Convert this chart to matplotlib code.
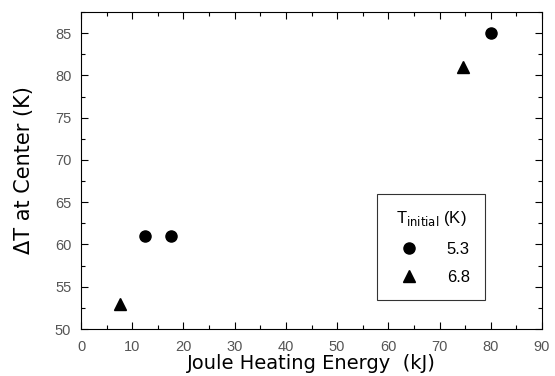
import matplotlib
matplotlib.use("Agg")
import matplotlib.pyplot as plt
from matplotlib.ticker import MultipleLocator
from matplotlib.lines import Line2D

plt.rcParams['font.family'] = ['Liberation Sans', 'DejaVu Sans']

# data
x_53 = [12.5, 17.5, 80.0]
y_53 = [61.0, 61.0, 85.0]
x_68 = [7.7, 74.5]
y_68 = [53.0, 81.0]
legend_labels = ['5.3', '6.8']

fig = plt.figure(figsize=(5.55, 3.76), dpi=100)
ax = fig.add_axes([81 / 555, 1 - 329 / 376, 461 / 555, 317 / 376])

ax.plot(x_53, y_53, 'o', color='black', markersize=8, linestyle='none')
ax.plot(x_68, y_68, '^', color='black', markersize=9, linestyle='none')

ax.set_xlim(0, 90)
ax.set_ylim(50, 87.5)
ax.xaxis.set_major_locator(MultipleLocator(10))
ax.xaxis.set_minor_locator(MultipleLocator(5))
ax.yaxis.set_major_locator(MultipleLocator(5))
ax.yaxis.set_minor_locator(MultipleLocator(2.5))
ax.tick_params(which='both', direction='in', top=True, right=True, width=0.8)
ax.tick_params(which='major', length=5, labelsize=10.5, labelcolor='#555555')
ax.tick_params(axis='x', which='major', pad=8)
ax.tick_params(axis='y', which='major', pad=7)
ax.tick_params(which='minor', length=3)
for s in ax.spines.values():
    s.set_linewidth(0.8)

# the original labels are letter-spaced; the wider DejaVu face comes closer
ax.set_xlabel('Joule Heating Energy  (kJ)', fontsize=14, family='DejaVu Sans', labelpad=0)
ax.set_ylabel('\u0394T at Center (K)', fontsize=15, family='DejaVu Sans', labelpad=15)

handles = [Line2D([], [], marker='o', color='black', linestyle='none', markersize=8),
           Line2D([], [], marker='^', color='black', linestyle='none', markersize=9)]
leg = ax.legend(handles, legend_labels, title=r'T$_{\rm initial}$ (K)',
                loc='lower right', bbox_to_anchor=(0.876, 0.0915), borderaxespad=0,
                frameon=True, fancybox=False, edgecolor='black',
                fontsize=12, title_fontsize=12, handletextpad=1.3,
                borderpad=0.9, labelspacing=0.8)
leg.get_frame().set_linewidth(0.8)

fig.savefig('out.png', dpi=100)
